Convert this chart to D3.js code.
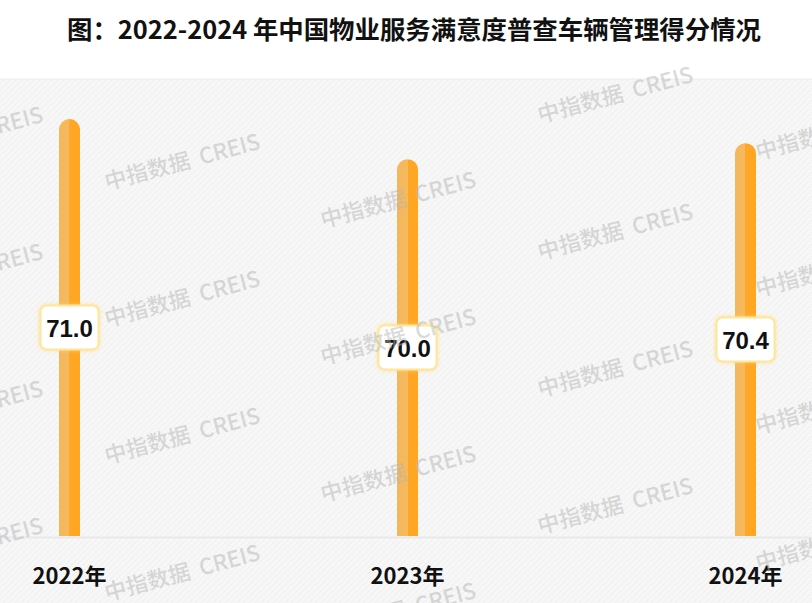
<!DOCTYPE html>
<html><head><meta charset="utf-8">
<script src="https://cdn.jsdelivr.net/npm/d3@7"></script>
<style>html,body{margin:0;padding:0;background:#fff;}svg{display:block;}</style>
</head><body>
<script>
const years = ["2022年", "2023年", "2024年"];
const scores = [71.0, 70.0, 70.4];
const valueLabels = ["71.0", "70.0", "70.4"];
const titleText = "图：2022-2024 年中国物业服务满意度普查车辆管理得分情况";
const watermarkText = "中指数据  CREIS";

const W = 812, H = 603;
const svg = d3.select("body").append("svg").attr("width", W).attr("height", H);
const defs = svg.append("defs");

// textured background pattern
const pat = defs.append("pattern").attr("id", "tex").attr("width", 6).attr("height", 6)
  .attr("patternUnits", "userSpaceOnUse");
pat.append("rect").attr("width", 6).attr("height", 6).attr("fill", "#f7f7f7");
pat.append("path").attr("d", "M0,6 L6,0 M-1,1 L1,-1 M5,7 L7,5").attr("stroke", "#efefef").attr("stroke-width", 1);
pat.append("path").attr("d", "M0,0 L6,6").attr("stroke", "#f3f3f3").attr("stroke-width", 0.6);

const grad = defs.append("linearGradient").attr("id", "barg").attr("x1", "0").attr("x2", "1").attr("y1", "0").attr("y2", "0");
grad.append("stop").attr("offset", "0%").attr("stop-color", "#f4b75c");
grad.append("stop").attr("offset", "50%").attr("stop-color", "#f5b95f");
grad.append("stop").attr("offset", "50%").attr("stop-color", "#ffa726");
grad.append("stop").attr("offset", "100%").attr("stop-color", "#ffa622");

const glow = defs.append("filter").attr("id", "glow").attr("x", "-30%").attr("y", "-30%").attr("width", "160%").attr("height", "160%");
glow.append("feDropShadow").attr("dx", 0).attr("dy", 0).attr("stdDeviation", 2).attr("flood-color", "#ffd970").attr("flood-opacity", 0.7);

const plotTop = 79, baseY = 536;
svg.append("rect").attr("x", 0).attr("y", plotTop).attr("width", W).attr("height", H - plotTop).attr("fill", "url(#tex)");
svg.append("line").attr("x1", 0).attr("x2", W).attr("y1", plotTop).attr("y2", plotTop).attr("stroke", "#eeeeee").attr("stroke-width", 1);

// title
svg.append("text").attr("x", 414).attr("y", 39).attr("text-anchor", "middle")
  .attr("font-family", "'Noto Sans CJK SC', sans-serif").attr("font-weight", 700)
  .attr("font-size", 25).attr("textLength", 694).attr("lengthAdjust", "spacingAndGlyphs")
  .attr("fill", "#111").text(titleText);

const x = d3.scalePoint().domain(years).range([69.5, 745.5]).padding(0);
const y = d3.scaleLinear().domain([60.6, 72]).range([baseY, plotTop]);

// baseline
svg.append("line").attr("x1", 0).attr("x2", W).attr("y1", baseY + 1.5).attr("y2", baseY + 1.5)
  .attr("stroke", "#e9e9e9").attr("stroke-width", 2);

const bw = 21, r = bw / 2;
const data = years.map((d, i) => ({ year: d, v: scores[i], label: valueLabels[i] }));

svg.append("g").selectAll("path").data(data).join("path")
  .attr("fill", "url(#barg)")
  .attr("d", d => {
    const x0 = x(d.year) - r, top = y(d.v);
    return `M${x0},${baseY} V${top + r} A${r},${r} 0 0 1 ${x0 + bw},${top + r} V${baseY} Z`;
  });

// value label boxes
const lg = svg.append("g").selectAll("g").data(data).join("g")
  .attr("transform", d => `translate(${x(d.year)},${(y(d.v) + baseY) / 2})`);
lg.append("rect").attr("x", -29).attr("y", -22).attr("width", 58).attr("height", 44).attr("rx", 6)
  .attr("fill", "#fff").attr("stroke", "#ffe69a").attr("stroke-width", 2).attr("filter", "url(#glow)");
lg.append("text").attr("text-anchor", "middle").attr("y", 9)
  .attr("font-family", "'Liberation Sans', Arial, sans-serif").attr("font-weight", 700)
  .attr("font-size", 24).attr("fill", "#111").text(d => d.label);

// x axis labels
svg.append("g").selectAll("text").data(years).join("text")
  .attr("x", d => x(d)).attr("y", 584).attr("text-anchor", "middle")
  .attr("font-family", "'Noto Sans CJK SC', sans-serif").attr("font-weight", 700)
  .attr("font-size", 22).attr("fill", "#111").text(d => d);

// watermarks
const wm = svg.append("g").attr("pointer-events", "none");
const colX = [-110, 107, 323, 540, 758];
const colY = [163, 190, 228, 260, 297];
colX.forEach((cx, ci) => {
  for (let k = -2; k < 6; k++) {
    const yy = colY[ci] + k * 137 - 137;
    if (yy < 110 || yy > H + 60) continue;
    wm.append("text").attr("x", cx).attr("y", yy)
      .attr("transform", `rotate(-15,${cx},${yy})`)
      .attr("font-family", "'Noto Sans CJK SC', sans-serif").attr("font-weight", 500)
      .attr("font-size", 22).attr("fill", "#b5b5b5").attr("fill-opacity", 0.5)
      .attr("xml:space", "preserve").text(watermarkText);
  }
});
</script>
</body></html>
